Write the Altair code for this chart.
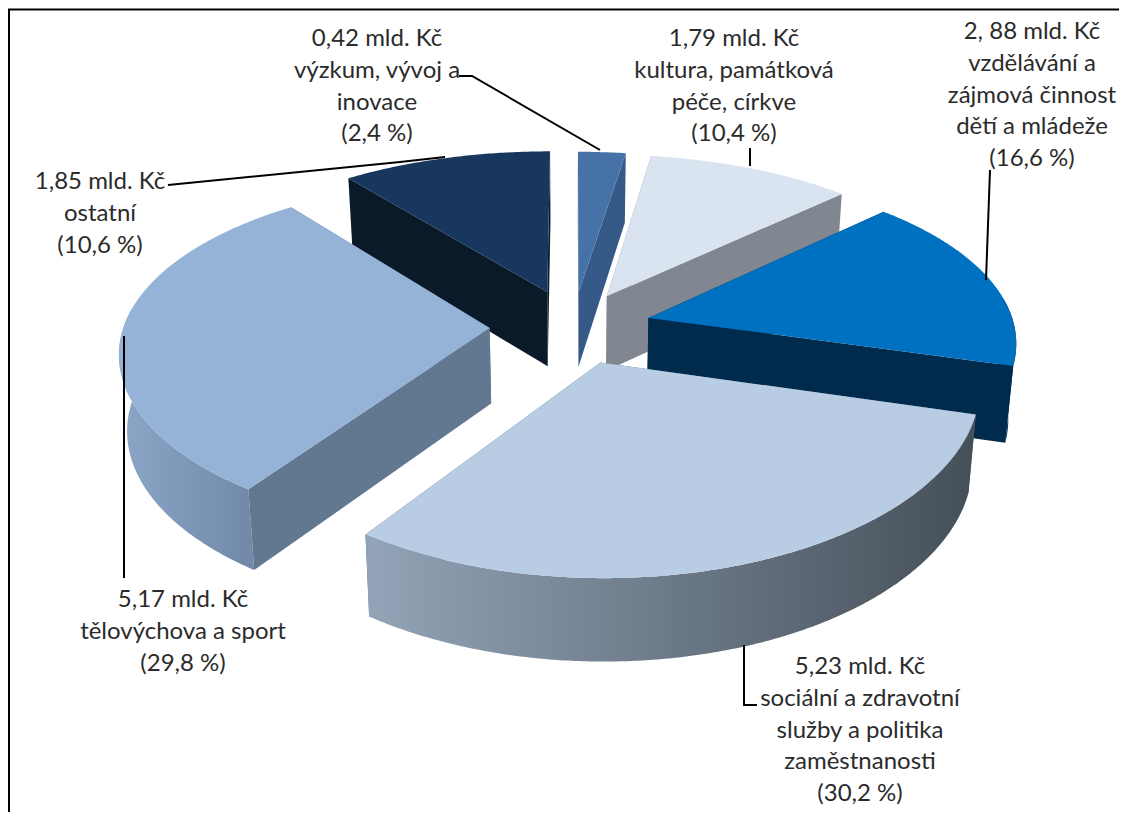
import math
import altair as alt
import pandas as pd

# ---- data ----
categories = ["výzkum", "kultura", "vzdělávání", "sociální", "tělovýchova", "ostatní"]
shares = [2.4, 10.4, 16.6, 30.2, 29.8, 10.6]
label_texts = [
    "0,42 mld. Kč\nvýzkum, vývoj a\ninovace\n(2,4 %)",
    "1,79 mld. Kč\nkultura, památková\npéče, církve\n(10,4 %)",
    "2, 88 mld. Kč\nvzdělávání a\nzájmová činnost\ndětí a mládeže\n(16,6 %)",
    "5,23 mld. Kč\nsociální a zdravotní\nslužby a politika\nzaměstnanosti\n(30,2 %)",
    "5,17 mld. Kč\ntělovýchova a sport\n(29,8 %)",
    "1,85 mld. Kč\nostatní\n(10,6 %)",
]

# ---- styles / layout ----
W, H = 1111, 804
OX, OY = 8, 8  # page margin
top_colors = ["#4672A8", "#DAE4F0", "#0070C0", "#B8CCE4", "#95B3D7", "#17375E"]
radial_colors = ["#355A88", "#808790", "#002B4D", "#5F7387", "#627890", "#0A1A28"]
wall_grad = {
    0: ("#355A88", "#355A88"),
    1: ("#808790", "#808790"),
    2: ("#002B4D", "#002B4D"),
    3: ("#93A4B8", "#454F58"),
    4: ("#8BA6C8", "#7188A8"),
    5: ("#0A1A28", "#0A1A28"),
}
label_pos = [(377, 46), (734, 46), (1032, 39), (860, 674), (183, 607), (100, 189)]
leaders = [
    [(459, 76), (472, 76), (600, 150)],
    [(750, 148), (750, 166)],
    [(990, 170), (986, 280)],
    [(744, 645), (744, 705), (757, 705)],
    [(124, 336), (124, 578)],
    [(168, 185), (400, 162), (445, 157)],
]
CX, CY = 573, 326.7
R, RY, P, PX = 362.4, 171.4, 0.15, 0.125
XSCALE = 1.01
EXPLODES = [74.5, 74.5, 77.5, 78.0, 82.5, 80.0]
DEPTH = 75.5
CONVERGE = 0.018


def proj(X, Y, z=0.0):
    w = 1 - P * Y / R
    wx = 1 - PX * Y / R
    shrink = 1 - CONVERGE * z / DEPTH
    return [CX + shrink * XSCALE * X / wx - OX, CY + (RY / R) * Y / w + z / math.sqrt(w) - OY]


def feature(points):
    ring = [list(p) for p in points]
    ring.append(ring[0])
    return {"type": "Feature", "properties": {},
            "geometry": {"type": "Polygon", "coordinates": [ring]}}


PROJ = dict(type="identity", scale=1, translate=[0, 0])
NOSTROKE = dict(stroke="transparent", strokeWidth=0)


def poly(points, fill):
    return alt.Chart(alt.Data(values=[feature(points)])).mark_geoshape(
        fill=fill, **NOSTROKE).project(**PROJ)


def gradient(a, b):
    return alt.Gradient(gradient="linear", x1=0, x2=1, y1=0, y2=0,
                        stops=[alt.GradientStop(color=a, offset=0),
                               alt.GradientStop(color=b, offset=1)])


# ---- turn shares into slices ----
slices = []
cum = 0.0
total = sum(shares)
for i, s in enumerate(shares):
    t0 = -90 + 360 * cum / total
    cum += s
    t1 = -90 + 360 * cum / total
    slices.append((i, t0, t1))

draw_order = [0, 5, 1, 2, 4, 3]
layers = []
for i in draw_order:
    _, t0, t1 = slices[i]
    mid = math.radians((t0 + t1) / 2)
    ex, ey = EXPLODES[i] * math.cos(mid), EXPLODES[i] * math.sin(mid)
    n = max(2, int(t1 - t0) * 2)
    ts = [math.radians(t0 + (t1 - t0) * k / n) for k in range(n + 1)]
    arc = [(ex + R * math.cos(t), ey + R * math.sin(t)) for t in ts]
    apex = (ex, ey)

    faces = []
    a, b = arc[0], arc[-1]
    faces.append(((apex[1] + a[1]) / 2,
                  [proj(*apex), proj(*a), proj(*a, DEPTH), proj(*apex, DEPTH)], radial_colors[i]))
    faces.append(((apex[1] + b[1]) / 2,
                  [proj(*apex), proj(*b), proj(*b, DEPTH), proj(*apex, DEPTH)], radial_colors[i]))
    vis = [p for p, t in zip(arc, ts) if math.sin(t) > -0.12]
    if len(vis) > 1:
        pts = [proj(*p) for p in vis] + [proj(*p, DEPTH) for p in reversed(vis)]
        c0, c1 = wall_grad[i]
        faces.append((sum(p[1] for p in vis) / len(vis), pts, gradient(c0, c1)))
    for _, pts, fill in sorted(faces, key=lambda f: f[0]):
        layers.append(poly(pts, fill))
    layers.append(poly([proj(*apex)] + [proj(*p) for p in arc], top_colors[i]))

# ---- frame, leader lines, labels ----
frame = pd.DataFrame({"x": [W, 1, 1], "y": [1.5, 1.5, H], "o": [0, 1, 2]})
layers.append(alt.Chart(frame).mark_line(color="#000000", strokeWidth=2).encode(
    x=alt.X("x:Q", scale=None, axis=None), y=alt.Y("y:Q", scale=None, axis=None), order="o:Q"))

rows = []
for k, line in enumerate(leaders):
    for j, (x, y) in enumerate(line):
        rows.append({"x": x - OX, "y": y - OY, "k": k, "o": j})
layers.append(alt.Chart(pd.DataFrame(rows)).mark_line(color="#000000", strokeWidth=2).encode(
    x=alt.X("x:Q", scale=None, axis=None), y=alt.Y("y:Q", scale=None, axis=None),
    detail="k:N", order="o:Q"))

lab = pd.DataFrame({"t": label_texts,
                    "x": [p[0] - OX for p in label_pos],
                    "y": [p[1] - OY for p in label_pos]})
layers.append(alt.Chart(lab).mark_text(font="Lato", fontSize=24, color="#2B2B2B", align="center",
                                       baseline="alphabetic", lineBreak="\n", lineHeight=31.8).encode(
    x=alt.X("x:Q", scale=None, axis=None), y=alt.Y("y:Q", scale=None, axis=None), text="t:N"))

chart = alt.layer(*layers).properties(
    width=W, height=H, padding=0, autosize=alt.AutoSizeParams(type="none")
).configure_view(stroke=None)
chart.save("out.html", embed_options={"renderer": "svg", "actions": False})
